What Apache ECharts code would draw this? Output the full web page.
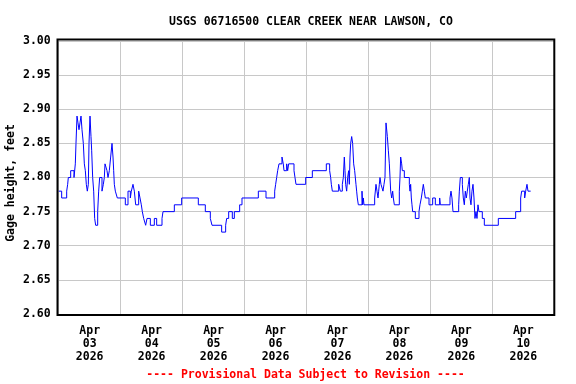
<!DOCTYPE html>
<html>
<head>
<meta charset="utf-8">
<script src="https://cdn.jsdelivr.net/npm/echarts@6/dist/echarts.min.js"></script>
<style>html,body{margin:0;padding:0;background:#fff;}#c{width:576px;height:384px;}</style>
</head>
<body>
<div id="c"></div>
<script>
// Hours since 2026-04-03 00:00 at which the gage height changes
var hours = [0,1.15,3.09,3.47,3.73,4.64,5.93,6.44,6.70,7.09,7.48,7.86,8.25,8.64,9.03,9.54,9.93,10.32,10.70,11.09,11.48,11.74,12.13,12.51,12.77,13.16,13.55,13.93,14.32,15.10,15.48,15.87,16.77,17.29,17.68,17.94,18.71,19.10,19.61,20.13,20.65,21.04,21.30,21.55,21.94,22.71,25.81,26.85,27.75,28.14,28.78,29.30,29.82,30.98,31.50,32.01,32.40,32.92,33.69,34.21,35.50,37.05,37.95,40.02,40.41,44.80,47.64,54.09,56.80,58.74,59.39,63.13,64.68,65.07,65.85,67.26,68.04,70.11,71.01,77.34,80.31,83.67,84.05,84.44,84.83,85.35,86.50,87.00,87.29,88.32,88.70,89.09,91.16,91.54,91.93,95.68,98.26,103.68,104.97,105.36,105.62,106.01,108.46,109.10,109.88,110.27,110.65,110.91,111.17,111.56,111.95,112.33,112.59,112.85,113.11,113.50,113.88,114.27,114.66,115.17,115.43,115.69,116.08,117.50,117.76,118.01,118.27,122.41,122.92,123.31,123.70,123.96,124.21,124.47,124.86,125.63,126.02,126.41,126.80,127.32,127.70,128.09,128.35,128.61,129.00,129.38,129.64,130.03,131.96,132.22,132.48,132.87,133.12,133.90,135.84,136.10,136.35,136.61,136.87,137.13,138.16,139.58,139.97,140.48,140.87,141.26,141.65,142.03,143.46,144.88,145.91,147.59,147.85,151.59,151.98,152.36,152.75,154.95,155.21,155.59,156.37,156.75,157.14,157.53,157.92,158.30,158.69,159.08,159.34,159.72,160.11,160.50,160.89,161.27,161.66,162.05,162.44,162.82,164.11,164.89,170.31,177.03,178.97,179.35,180.52,180.91,181.42,181.81,182.84];
var gageHeight = [2.78,2.77,2.78,2.79,2.80,2.81,2.80,2.82,2.85,2.89,2.88,2.87,2.88,2.89,2.87,2.85,2.82,2.81,2.79,2.78,2.79,2.85,2.89,2.86,2.84,2.80,2.78,2.74,2.73,2.75,2.78,2.80,2.78,2.79,2.80,2.82,2.81,2.80,2.81,2.83,2.85,2.83,2.81,2.79,2.78,2.77,2.76,2.78,2.77,2.78,2.79,2.78,2.76,2.78,2.77,2.76,2.75,2.74,2.73,2.74,2.73,2.74,2.73,2.74,2.75,2.76,2.77,2.76,2.75,2.74,2.73,2.72,2.73,2.74,2.75,2.74,2.75,2.76,2.77,2.78,2.77,2.78,2.79,2.80,2.81,2.82,2.83,2.82,2.81,2.82,2.81,2.82,2.81,2.80,2.79,2.80,2.81,2.82,2.81,2.80,2.79,2.78,2.79,2.78,2.79,2.80,2.83,2.81,2.79,2.78,2.80,2.81,2.79,2.83,2.85,2.86,2.85,2.82,2.81,2.79,2.78,2.77,2.76,2.78,2.76,2.77,2.76,2.77,2.79,2.78,2.77,2.78,2.79,2.80,2.79,2.78,2.79,2.80,2.88,2.86,2.84,2.82,2.80,2.78,2.77,2.78,2.77,2.76,2.78,2.80,2.83,2.82,2.81,2.80,2.79,2.78,2.79,2.77,2.76,2.75,2.74,2.75,2.76,2.77,2.78,2.79,2.78,2.77,2.76,2.77,2.76,2.77,2.76,2.77,2.78,2.77,2.75,2.76,2.78,2.80,2.79,2.77,2.76,2.78,2.77,2.78,2.79,2.80,2.77,2.76,2.78,2.79,2.77,2.74,2.75,2.74,2.76,2.75,2.74,2.73,2.74,2.75,2.77,2.78,2.77,2.78,2.79,2.78,2.78];
var dayLabels = ['Apr\n03\n2026','Apr\n04\n2026','Apr\n05\n2026','Apr\n06\n2026','Apr\n07\n2026','Apr\n08\n2026','Apr\n09\n2026','Apr\n10\n2026'];
var yTicks = [2.60,2.65,2.70,2.75,2.80,2.85,2.90,2.95,3.00];
var titleText = 'USGS 06716500 CLEAR CREEK NEAR LAWSON, CO';
var yName = 'Gage height, feet';
var footer = '---- Provisional Data Subject to Revision ----';

var FONT = '"DejaVu Sans Mono", "Liberation Mono", monospace';
var data = hours.map(function(h, i){ return [h, gageHeight[i]]; });
var chart = echarts.init(document.getElementById('c'), null, {renderer:'canvas'});
chart.setOption({
  animation: false,
  backgroundColor: '#fff',
  title: {
    text: titleText, left: 306, top: 11, textAlign: 'center',
    textStyle: {fontFamily: FONT, fontWeight: 'bold', fontSize: 11.5, color: '#000'}
  },
  grid: {left: 58.7, right: 21.7, top: 41, bottom: 70},
  xAxis: [{
    type: 'value', min: 0, max: 192, interval: 24,
    axisLine: {show: false}, axisTick: {show: false}, axisLabel: {show: false},
    splitLine: {show: true, lineStyle: {color: '#c8c8c8', width: 1}}
  }, {
    type: 'value', min: 0, max: 192, interval: 12, position: 'bottom',
    axisLine: {show: false}, axisTick: {show: false}, splitLine: {show: false},
    axisLabel: {
      margin: 11, fontFamily: FONT, fontWeight: 'bold', fontSize: 11.5, color: '#000', lineHeight: 13,
      showMinLabel: true, showMaxLabel: true,
      formatter: function(v){ return (v % 24 === 12) ? dayLabels[(v - 12) / 24] : ''; }
    }
  }],
  yAxis: {
    type: 'value', min: 2.6, max: 3.0, interval: 0.05,
    axisLine: {show: false}, axisTick: {show: false},
    axisLabel: {margin: 8, fontFamily: FONT, fontWeight: 'bold', fontSize: 11.5, color: '#000',
      formatter: function(v){ return v.toFixed(2); }},
    splitLine: {show: true, lineStyle: {color: '#c8c8c8', width: 1}}
  },
  series: [{
    type: 'line', xAxisIndex: 0, data: data, step: 'end', showSymbol: false,
    lineStyle: {color: '#0000ff', width: 1}, itemStyle: {color: '#0000ff'}
  }],
  graphic: [
    {type: 'rect', shape: {x: 57.5, y: 39.5, width: 496.8, height: 275.5},
     style: {fill: null, stroke: '#000', lineWidth: 2}, z: 100},
    {type: 'text', x: 11, y: 183, rotation: Math.PI / 2,
     style: {text: yName, font: 'bold 11.5px ' + FONT, fill: '#000', textAlign: 'center', textVerticalAlign: 'middle'}},
    {type: 'text', x: 305.5, y: 375.5,
     style: {text: footer, font: 'bold 11.5px ' + FONT, fill: '#ff0000', textAlign: 'center', textVerticalAlign: 'middle'}}
  ]
});
</script>
</body>
</html>
